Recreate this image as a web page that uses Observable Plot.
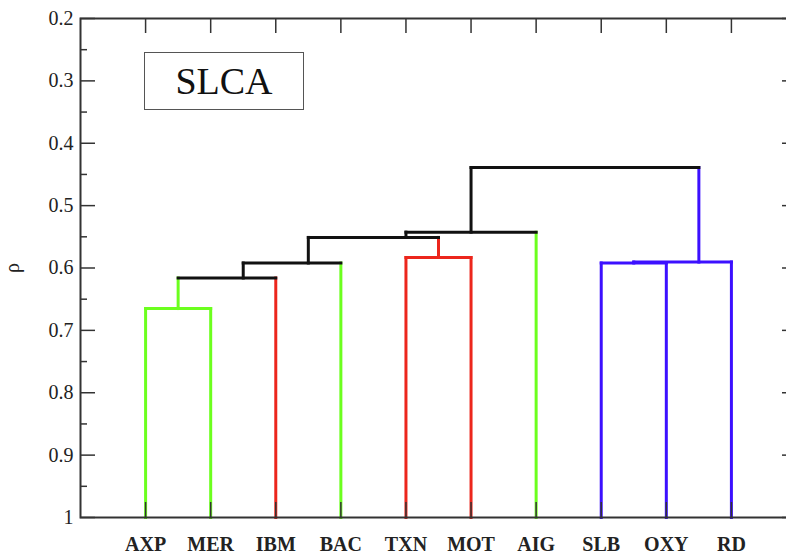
<!DOCTYPE html>
<html><head><meta charset="utf-8">
<script src="https://cdn.jsdelivr.net/npm/d3@7"></script>
<script src="https://cdn.jsdelivr.net/npm/@observablehq/plot@0.6"></script>
<style>
html,body{margin:0;padding:0;background:#fff;overflow:hidden;}
#wrap{position:relative;width:786px;height:554px;overflow:hidden;}
#wrap svg{max-width:none !important;width:800px;height:554px;}
#wrap svg text{font-family:"Liberation Serif",serif !important;}
#tag{position:absolute;left:144px;top:52px;width:158px;height:56px;border:1.5px solid #555;display:flex;align-items:center;justify-content:center;font:38px "Liberation Serif",serif;color:#111;background:#fff;}
</style></head><body><div id="wrap"></div>
<script>
// Leaves (x-axis categories)
const leaves = ["AXP","MER","IBM","BAC","TXN","MOT","AIG","SLB","OXY","RD"];
const GREEN = "#6cff1e", RED = "#ec261c", BLUE = "#3c10ff", BLACK = "#111111";
const leafColor = [GREEN, GREEN, RED, GREEN, RED, RED, GREEN, BLUE, BLUE, BLUE];

// Merges of the single-linkage dendrogram
const mergeName  = ["A","B","C","D","E","F","G","H","R"];
const mergeLeft  = ["AXP","A","B","TXN","C","E","SLB","G","F"];
const mergeRight = ["MER","IBM","BAC","MOT","D","AIG","OXY","RD","H"];
const mergeRho   = [0.665, 0.616, 0.592, 0.583, 0.551, 0.5425, 0.592, 0.5905, 0.439];
const mergeStemX = [0.5, 1.5, 2.5, 4.5, 4, 5, 7.5, 8.5, null];
const mergeColor = [GREEN, BLACK, BLACK, RED, BLACK, BLACK, BLUE, BLUE, BLACK];

// Axis ticks
const majorY = [0.2,0.3,0.4,0.5,0.6,0.7,0.8,0.9,1];
const minorY = [0.25,0.35,0.45,0.55,0.65,0.75,0.85,0.95];

const pos = {}, rho = {}, colorOf = {};
leaves.forEach((l,i)=>{pos[l]=i; rho[l]=1; colorOf[l]=leafColor[i];});
mergeName.forEach((m,j)=>{pos[m]=mergeStemX[j]; rho[m]=mergeRho[j]; colorOf[m]=mergeColor[j];});
const segments = [];
mergeName.forEach((m,j)=>{
  const L = mergeLeft[j], R = mergeRight[j];
  for (const c of [L,R]) segments.push({x1:pos[c], x2:pos[c], y1:rho[c], y2:mergeRho[j], color:colorOf[c]});
  segments.push({x1:pos[L], x2:pos[R], y1:mergeRho[j], y2:mergeRho[j], color:mergeColor[j]});
});

const tickStyle = {stroke:"#333", strokeWidth:1.5};
const chart = Plot.plot({
  width: 800, height: 554,
  marginLeft: 80, marginRight: 4, marginTop: 18, marginBottom: 37,
  style: {fontFamily: "'Liberation Serif', serif", fontSize: "20px", background: "white", color: "#222", maxWidth: "none"},
  x: {domain: [-1, 10]},
  y: {domain: [0.2, 1], reverse: true},
  color: {type: "identity"},
  marks: [
    Plot.link(segments, {x1:"x1", x2:"x2", y1:"y1", y2:"y2", stroke:"color", strokeWidth:3, strokeLinecap:"square"}),
    Plot.frame({stroke:"#333", strokeWidth:2}),
    Plot.axisY({anchor:"left", ticks: majorY, tickSize:-15, tickPadding:22, ...tickStyle,
      tickFormat: d => d === 1 ? "1" : d.toFixed(1), fontSize:20,
      label:"ρ", labelAnchor:"center", labelOffset:76, labelArrow:"none"}),
    Plot.axisY({anchor:"left", ticks: minorY, tickSize:-7, tickFormat: () => "", label:null, ...tickStyle}),
    Plot.axisY({anchor:"right", ticks: majorY, tickSize:-15, tickFormat: () => "", label:null, ...tickStyle}),
    Plot.axisY({anchor:"right", ticks: minorY, tickSize:-7, tickFormat: () => "", label:null, ...tickStyle}),
    Plot.axisX({anchor:"top", ticks: d3.range(leaves.length), tickSize:-14, tickFormat: () => "", label:null, ...tickStyle}),
    Plot.axisX({anchor:"bottom", ticks: d3.range(leaves.length), tickSize:-15, tickPadding:34,
      tickFormat: i => leaves[i], fontWeight:"bold", fontSize:20, label:null, ...tickStyle})
  ]
});
const wrap = document.getElementById("wrap");
wrap.appendChild(chart);
const tag = document.createElement("div");
tag.id = "tag"; tag.textContent = "SLCA";
wrap.appendChild(tag);
</script>
</body></html>
